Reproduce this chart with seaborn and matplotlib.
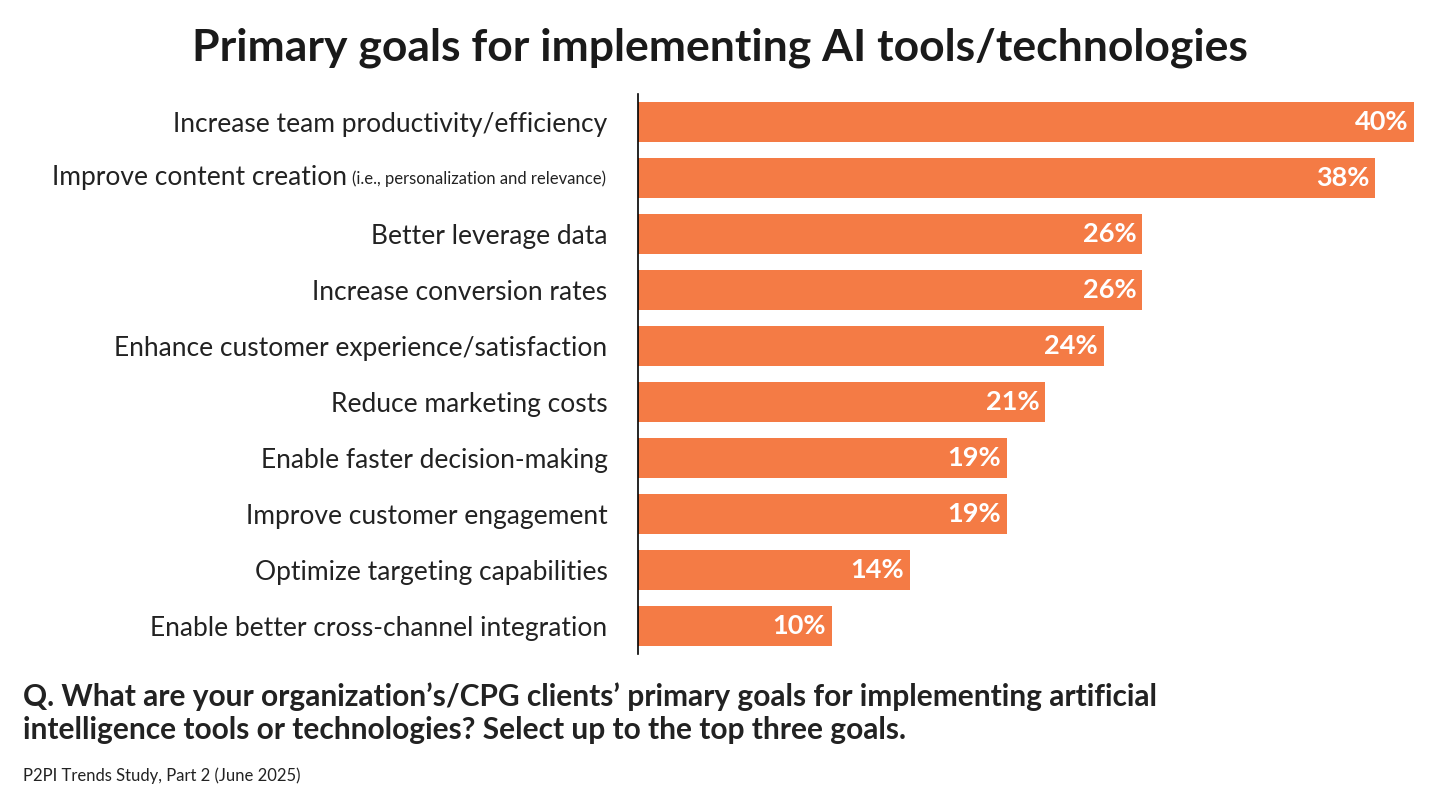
import matplotlib
matplotlib.use("Agg")
import matplotlib.pyplot as plt
import seaborn as sns
import pandas as pd

categories = ["Increase team productivity/efficiency", "Improve content creation",
              "Better leverage data", "Increase conversion rates",
              "Enhance customer experience/satisfaction", "Reduce marketing costs",
              "Enable faster decision-making", "Improve customer engagement",
              "Optimize targeting capabilities", "Enable better cross-channel integration"]
values = [40, 38, 26, 26, 24, 21, 19, 19, 14, 10]
note = "(i.e., personalization and relevance)"

df = pd.DataFrame({"cat": categories, "val": values})
FONT = "Lato"
plt.rcParams["font.family"] = FONT
fig = plt.figure(figsize=(14.4, 8.06), dpi=100)
ax = fig.add_axes([638/1440, 1-654/806, (1414-638)/1440, (654-94)/806])
sns.barplot(data=df, y="cat", x="val", color="#F47B45", saturation=1, width=0.72, ax=ax, orient="h")
ax.set_xlim(0, 40)
ax.set_xlabel(""); ax.set_ylabel("")
ax.set_xticks([])
for s in ["top", "right", "bottom"]:
    ax.spines[s].set_visible(False)
ax.spines["left"].set_linewidth(1.2)
ax.tick_params(axis="y", length=0, pad=22, labelsize=19, labelcolor="#222222")
labels = list(categories)
labels[1] = ""
ax.set_yticks(range(len(categories)))
ax.set_yticklabels(labels)
for i, v in enumerate(values):
    ax.text(v - 0.3, i, f"{v}%", ha="right", va="center", color="white", fontsize=19.5, fontweight="bold")

fig.canvas.draw()
r = fig.canvas.get_renderer()
t2 = fig.text(606/1440, 1-179/806, note, ha="right", va="center", fontsize=12, color="#222222")
bb = t2.get_window_extent(r)
fig.text((bb.x0 - 5)/1440, 1-177/806, categories[1], ha="right", va="center", fontsize=19, color="#222222")

fig.text(0.5, 1-48/806, "Primary goals for implementing AI tools/technologies", ha="center", va="center",
         fontsize=32, fontweight="bold", color="#1a1a1a")
fig.text(23/1440, 1-713/806, "Q. What are your organization\u2019s/CPG clients\u2019 primary goals for implementing artificial\nintelligence tools or technologies? Select up to the top three goals.",
         ha="left", va="center", fontsize=21.5, fontweight="bold", color="#222222", linespacing=1.22)
fig.text(23/1440, 1-776/806, "P2PI Trends Study, Part 2 (June 2025)", ha="left", va="center", fontsize=12, color="#222222")
fig.savefig("out.png", dpi=100)
